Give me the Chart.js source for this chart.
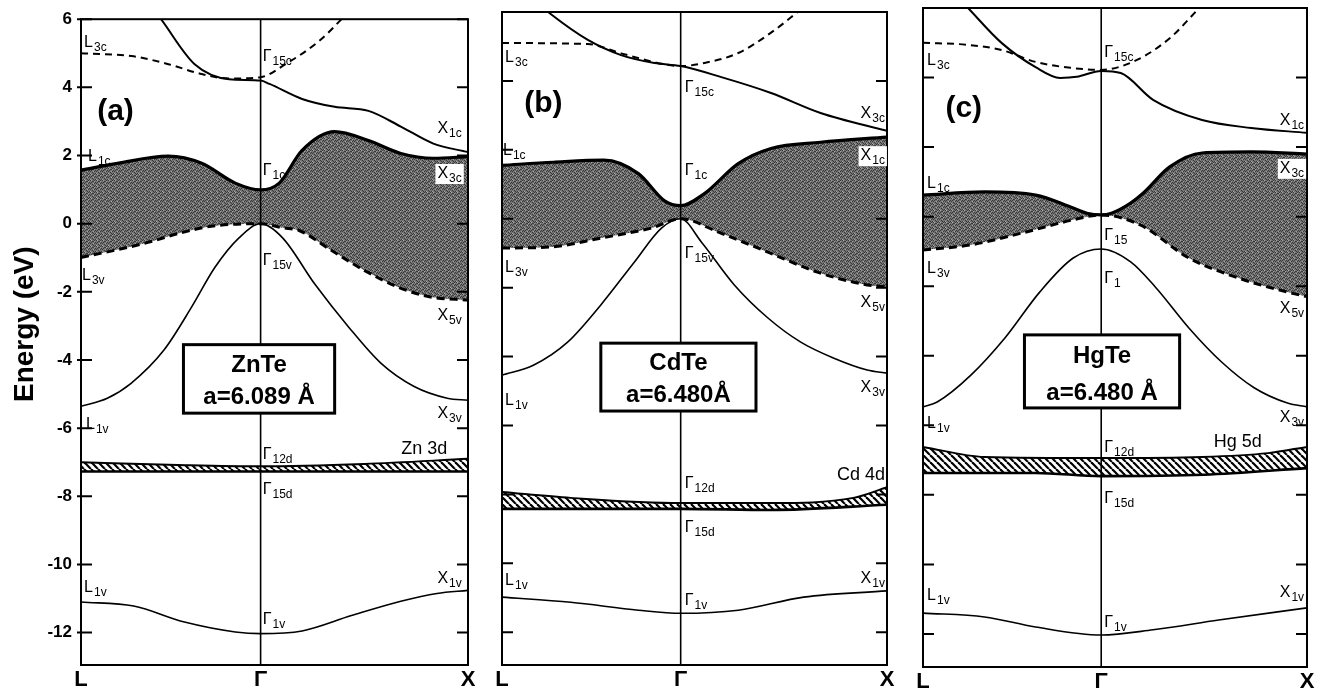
<!DOCTYPE html>
<html>
<head>
<meta charset="utf-8">
<title>Band structures ZnTe / CdTe / HgTe</title>
<script src="https://cdn.jsdelivr.net/npm/chart.js"></script>
<style>
  body { margin: 0; background: #fff; overflow: hidden; }
  canvas { position: absolute; }
</style>
</head>
<body>
<canvas id="znte" width="482" height="700" style="left:0;top:0"></canvas>
<canvas id="cdte" width="413" height="700" style="left:488px;top:0"></canvas>
<canvas id="hgte" width="412" height="700" style="left:909px;top:0"></canvas>
<script>
// k-points along L - Γ - X (L at sqrt(3)/2 of Γ-X distance)
const kNames = ['L', 'Γ', 'X'];
const kPos = [-0.866, 0, 1];
const yTicks = [-12, -10, -8, -6, -4, -2, 0, 2, 4, 6];

// ---- ZnTe band energies [k, eV] ----
const znteC15 = [[-0.53, 6.4], [-0.48, 6.0], [-0.318, 4.68], [-0.152, 4.24], [0, 4.2], [0.043, 4.1], [0.2, 3.66], [0.357, 3.43], [0.52, 3.31], [0.676, 2.85], [0.833, 2.35], [1, 2.1]];
const znteL3c = [[-0.866, 5.0], [-0.612, 4.91], [-0.445, 4.68], [-0.284, 4.39], [-0.152, 4.26], [0, 4.3], [0.12, 4.68], [0.28, 5.35], [0.39, 6.0], [0.45, 6.4]];
const znteC1 = [[-0.866, 1.57], [-0.69, 1.77], [-0.445, 1.98], [-0.284, 1.77], [-0.122, 1.19], [0, 0.99], [0.09, 1.19], [0.2, 2.15], [0.357, 2.7], [0.52, 2.44], [0.676, 2.06], [0.833, 1.92], [1, 1.97]];
const znteV3 = [[-0.866, -0.99], [-0.71, -0.79], [-0.543, -0.55], [-0.38, -0.26], [-0.22, -0.06], [0, 0], [0.105, -0.12], [0.186, -0.2], [0.343, -0.79], [0.5, -1.37], [0.662, -1.86], [0.819, -2.15], [1, -2.24]];
const znteV15 = [[-0.866, -5.36], [-0.739, -5.12], [-0.626, -4.69], [-0.465, -3.7], [-0.333, -2.45], [-0.22, -1.28], [-0.103, -0.41], [0, 0], [0.105, -0.41], [0.262, -1.78], [0.424, -3.03], [0.581, -4.1], [0.738, -4.77], [0.9, -5.12], [1, -5.18]];
const znteDTop = [[-0.866, -7.0], [-0.4, -7.08], [0, -7.12], [0.5, -7.05], [1, -6.9]];
const znteDBot = [[-0.866, -7.27], [0, -7.27], [1, -7.27]];
const znteV1 = [[-0.866, -11.1], [-0.612, -11.22], [-0.367, -11.69], [-0.122, -11.98], [0, -12.03], [0.2, -11.95], [0.438, -11.5], [0.676, -11.08], [0.85, -10.85], [1, -10.76]];

// ---- CdTe ----
const cdteC15 = [[-0.7, 6.3], [-0.63, 5.94], [-0.45, 5.19], [-0.289, 4.75], [-0.127, 4.52], [0, 4.43], [0.197, 4.11], [0.438, 3.65], [0.678, 3.07], [1, 2.55]];
const cdteL3c = [[-0.866, 5.1], [-0.45, 5.07], [-0.289, 4.8], [-0.093, 4.5], [0, 4.43], [0.115, 4.52], [0.279, 4.81], [0.438, 5.4], [0.567, 6.0], [0.65, 6.4]];
const cdteC1 = [[-0.866, 1.55], [-0.617, 1.64], [-0.372, 1.7], [-0.205, 1.31], [-0.078, 0.52], [0, 0.38], [0.115, 0.73], [0.279, 1.6], [0.438, 2.04], [0.678, 2.22], [1, 2.37]];
const cdteV3 = [[-0.866, -0.85], [-0.63, -0.82], [-0.387, -0.56], [-0.142, -0.27], [0, 0], [0.183, -0.39], [0.423, -0.97], [0.663, -1.55], [0.904, -1.92], [1, -1.98]];
const cdteV15 = [[-0.866, -4.54], [-0.714, -4.25], [-0.548, -3.58], [-0.387, -2.5], [-0.225, -1.26], [-0.093, -0.27], [0, 0], [0.101, -0.68], [0.26, -1.92], [0.423, -2.88], [0.582, -3.58], [0.74, -4.04], [0.904, -4.39], [1, -4.48]];
const cdteDTop = [[-0.866, -7.93], [-0.533, -8.1], [0, -8.25], [0.438, -8.25], [0.837, -8.1], [1, -7.79]];
const cdteDBot = [[-0.866, -8.42], [0, -8.42], [0.438, -8.45], [1, -8.3]];
const cdteV1 = [[-0.866, -10.98], [-0.533, -11.13], [-0.205, -11.36], [0, -11.45], [0.279, -11.36], [0.596, -10.98], [1, -10.8]];

// ---- HgTe ----
const hgteC15 = [[-0.7, 6.33], [-0.647, 6.0], [-0.483, 4.99], [-0.319, 4.3], [-0.2, 3.99], [-0.119, 4.02], [0, 4.19], [0.095, 4.13], [0.252, 3.36], [0.49, 2.78], [0.729, 2.55], [1, 2.41]];
const hgteL3c = [[-0.866, 5.0], [-0.647, 4.94], [-0.483, 4.79], [-0.319, 4.45], [-0.149, 4.28], [0, 4.22], [0.171, 4.5], [0.333, 5.13], [0.476, 6.0], [0.53, 6.33]];
const hgteC1 = [[-0.866, 0.62], [-0.567, 0.71], [-0.319, 0.62], [-0.149, 0.28], [-0.07, 0.1], [0, 0.05], [0.05, 0.1], [0.143, 0.39], [0.205, 0.68], [0.333, 1.43], [0.49, 1.83], [0.729, 1.86], [1, 1.8]];
const hgteV3 = [[-0.866, -0.96], [-0.632, -0.81], [-0.385, -0.47], [-0.136, -0.09], [0, 0.05], [0.19, -0.24], [0.426, -1.19], [0.664, -1.76], [0.905, -2.17], [1, -2.3]];
const hgteG1 = [[-0.866, -5.47], [-0.797, -5.33], [-0.632, -4.55], [-0.468, -3.49], [-0.299, -2.17], [-0.136, -1.19], [0, -0.93], [0.143, -1.3], [0.267, -2.05], [0.426, -3.2], [0.585, -4.18], [0.743, -4.92], [0.905, -5.36], [1, -5.47]];
const hgteDTop = [[-0.866, -6.62], [-0.567, -6.91], [0, -6.94], [0.49, -6.91], [0.81, -6.8], [1, -6.62]];
const hgteDBot = [[-0.866, -7.37], [-0.319, -7.37], [0, -7.46], [0.5, -7.42], [1, -7.23]];
const hgteV1 = [[-0.866, -11.4], [-0.567, -11.51], [-0.319, -11.8], [0, -12.03], [0.252, -11.88], [0.571, -11.6], [1, -11.25]];

// ---- text labels: [main, subscript, k, eV, align, whiteBackground] ----
const znteLabels = [
  ['L', '3c', -0.851, 5.18], ['Γ', '15c', 0.01, 4.77], ['X', '1c', 0.97, 2.65, 'right'],
  ['L', '1c', -0.832, 1.83], ['Γ', '1c', 0.01, 1.43], ['X', '3c', 0.97, 1.34, 'right', true],
  ['Γ', '15v', 0.01, -1.22], ['L', '3v', -0.861, -1.66], ['X', '5v', 0.97, -2.82, 'right'],
  ['X', '3v', 0.97, -5.71, 'right'], ['L', '1v', -0.842, -6.03], ['Γ', '12d', 0.01, -6.9],
  ['Γ', '15d', 0.01, -7.92], ['L', '1v', -0.851, -10.8], ['X', '1v', 0.97, -10.54, 'right'],
  ['Γ', '1v', 0.01, -11.76]
];
const cdteLabels = [
  ['L', '3c', -0.851, 4.55], ['Γ', '15c', 0.02, 3.68], ['X', '3c', 0.99, 2.92, 'right'],
  ['L', '1c', -0.861, 1.85], ['X', '1c', 0.99, 1.7, 'right', true], ['Γ', '1c', 0.02, 1.27],
  ['Γ', '15v', 0.02, -1.14], ['L', '3v', -0.851, -1.55], ['X', '5v', 0.99, -2.57, 'right'],
  ['X', '3v', 0.99, -5.03, 'right'], ['L', '1v', -0.851, -5.41], ['Γ', '12d', 0.02, -7.82],
  ['Γ', '15d', 0.02, -9.09], ['L', '1v', -0.851, -10.63], ['X', '1v', 0.99, -10.57, 'right'],
  ['Γ', '1v', 0.02, -11.21]
];
const hgteLabels = [
  ['L', '3c', -0.846, 4.36], ['Γ', '15c', 0.015, 4.59], ['X', '1c', 0.986, 2.64, 'right'],
  ['L', '1c', -0.846, 0.83], ['X', '3c', 0.986, 1.26, 'right', true], ['Γ', '15', 0.015, -0.67],
  ['L', '3v', -0.846, -1.62], ['Γ', '1', 0.015, -1.91], ['X', '5v', 0.986, -2.77, 'right'],
  ['X', '3v', 0.986, -5.9, 'right'], ['L', '1v', -0.846, -6.08], ['Γ', '12d', 0.015, -6.77],
  ['Γ', '15d', 0.015, -8.23], ['L', '1v', -0.846, -11.02], ['X', '1v', 0.986, -10.93, 'right'],
  ['Γ', '1v', 0.015, -11.8]
];

const FAM = '"Liberation Sans", Arial, Helvetica, sans-serif';
Chart.defaults.font.family = FAM;
Chart.defaults.color = '#000';

function stipple() {
  const c = document.createElement('canvas');
  c.width = 6; c.height = 6;
  const g = c.getContext('2d');
  g.fillStyle = '#747474';
  g.fillRect(0, 0, 6, 6);
  g.fillStyle = '#383838';
  [[0, 0], [3, 1], [1, 2], [4, 3], [2, 4], [5, 5], [0, 3], [3, 5], [5, 2], [2, 1], [4, 0]].forEach(p => g.fillRect(p[0], p[1], 1, 1));
  g.fillStyle = '#a4a4a4';
  [[1, 0], [4, 1], [0, 5], [3, 3]].forEach(p => g.fillRect(p[0], p[1], 1, 1));
  return g.createPattern(c, 'repeat');
}

function hatch() {
  const c = document.createElement('canvas');
  c.width = 7; c.height = 7;
  const g = c.getContext('2d');
  g.fillStyle = '#fff';
  g.fillRect(0, 0, 7, 7);
  g.strokeStyle = '#000';
  g.lineWidth = 2.2;
  [-7, 0, 7].forEach(k => { g.beginPath(); g.moveTo(k, 0); g.lineTo(k + 7, 7); g.stroke(); });
  return g.createPattern(c, 'repeat');
}

const pts = arr => arr.map(p => ({ x: p[0], y: p[1] }));

function drawLabel(ctx, l, xs, ys) {
  const px = xs.getPixelForValue(l[2]), py = ys.getPixelForValue(l[3]);
  ctx.font = '16px ' + FAM;
  const w1 = ctx.measureText(l[0]).width;
  ctx.font = '12px ' + FAM;
  const w2 = l[1] ? ctx.measureText(l[1]).width + 1 : 0;
  const x0 = l[4] === 'right' ? px - w1 - w2 : px;
  if (l[5]) {
    ctx.fillStyle = '#fff';
    ctx.fillRect(x0 - 2, py - 14, w1 + w2 + 4, 20);
  }
  ctx.fillStyle = '#000';
  ctx.textAlign = 'left';
  ctx.textBaseline = 'alphabetic';
  ctx.font = '16px ' + FAM;
  ctx.fillText(l[0], x0, py);
  ctx.font = '12px ' + FAM;
  if (l[1]) ctx.fillText(l[1], x0 + w1 + 1, py + 4);
}

function decor(cfg) {
  return {
    id: 'decor',
    afterDatasetsDraw(chart) {
      const ctx = chart.ctx, a = chart.chartArea;
      const xs = chart.scales.x, ys = chart.scales.y;
      ctx.save();
      ctx.strokeStyle = '#000';
      // Γ vertical line
      const gx = xs.getPixelForValue(0);
      ctx.lineWidth = 1.6;
      ctx.beginPath(); ctx.moveTo(gx, a.top); ctx.lineTo(gx, a.bottom); ctx.stroke();
      // inward ticks
      ctx.lineWidth = 2;
      yTicks.forEach(v => {
        const py = ys.getPixelForValue(v);
        ctx.beginPath();
        ctx.moveTo(a.left - cfg.out, py); ctx.lineTo(a.left + 11, py);
        ctx.moveTo(a.right - 11, py); ctx.lineTo(a.right, py);
        ctx.stroke();
      });
      // frame
      ctx.lineWidth = 2;
      ctx.strokeRect(a.left, a.top, a.right - a.left, a.bottom - a.top);
      // material box
      const b = cfg.box;
      const bx1 = xs.getPixelForValue(b.k0), bx2 = xs.getPixelForValue(b.k1);
      const by1 = ys.getPixelForValue(b.top), by2 = ys.getPixelForValue(b.bottom);
      ctx.fillStyle = '#fff';
      ctx.fillRect(bx1, by1, bx2 - bx1, by2 - by1);
      ctx.lineWidth = 3;
      ctx.strokeRect(bx1, by1, bx2 - bx1, by2 - by1);
      ctx.fillStyle = '#000';
      ctx.textAlign = 'center';
      ctx.textBaseline = 'alphabetic';
      ctx.font = 'bold 24px ' + FAM;
      ctx.fillText(b.name, (bx1 + bx2) / 2, ys.getPixelForValue(b.e1));
      ctx.fillText(b.lattice, (bx1 + bx2) / 2, ys.getPixelForValue(b.e2));
      // panel tag
      ctx.textAlign = 'left';
      ctx.font = 'bold 30px ' + FAM;
      ctx.fillText(cfg.tag[0], xs.getPixelForValue(cfg.tag[1]), ys.getPixelForValue(cfg.tag[2]));
      // d-band label
      ctx.font = '18px ' + FAM;
      ctx.textAlign = 'right';
      ctx.fillText(cfg.dName[0], xs.getPixelForValue(cfg.dName[1]), ys.getPixelForValue(cfg.dName[2]));
      // point labels
      cfg.labels.forEach(l => drawLabel(ctx, l, xs, ys));
      // y title
      if (cfg.yTitle) {
        ctx.save();
        ctx.translate(a.left - 48, ys.getPixelForValue(-2.95));
        ctx.rotate(-Math.PI / 2);
        ctx.textAlign = 'center';
        ctx.font = 'bold 28px ' + FAM;
        ctx.fillText(cfg.yTitle, 0, 0);
        ctx.restore();
      }
      ctx.restore();
    }
  };
}

function makePanel(id, bands, cfg, lay) {
  const thin = { borderWidth: 1.6 };
  const ds = [
    { data: pts(bands[0]), borderWidth: 2 },
    { data: pts(bands[1]), borderWidth: 2, borderDash: [7, 5] },
    { data: pts(bands[2]), borderWidth: 3.2, fill: 3, backgroundColor: stipple() },
    { data: pts(bands[3]), borderWidth: 3, borderDash: [8, 5] },
    Object.assign({ data: pts(bands[4]) }, thin),
    { data: pts(bands[5]), borderWidth: 2, fill: 6, backgroundColor: hatch() },
    { data: pts(bands[6]), borderWidth: 2.6 },
    Object.assign({ data: pts(bands[7]) }, thin)
  ].map(d => Object.assign({
    borderColor: '#000', pointRadius: 0, cubicInterpolationMode: 'monotone', fill: false
  }, d));

  new Chart(document.getElementById(id), {
    type: 'line',
    data: { datasets: ds },
    options: {
      responsive: false,
      animation: false,
      layout: { padding: { top: lay.top, left: lay.left, right: 14, bottom: 0 } },
      plugins: {
        legend: { display: false },
        tooltip: { enabled: false },
        filler: { drawTime: 'beforeDatasetsDraw' }
      },
      scales: {
        x: {
          type: 'linear', min: kPos[0], max: kPos[2],
          grid: { display: false, drawTicks: false },
          border: { display: false },
          afterBuildTicks: s => { s.ticks = kPos.map(v => ({ value: v })); },
          afterFit: s => { s.height = lay.xh; },
          ticks: {
            padding: 2,
            font: { size: 22, weight: 'bold' },
            callback: v => kNames[kPos.indexOf(v)]
          }
        },
        y: {
          display: lay.yAxis,
          min: -12.95, max: 6,
          grid: { display: false, drawTicks: false },
          border: { display: false },
          afterBuildTicks: s => { s.ticks = yTicks.map(v => ({ value: v })); },
          afterFit: s => { s.width = lay.yAxis ? 81 : 0; },
          ticks: { padding: 9, font: { size: 17, weight: 'bold' } }
        }
      }
    },
    plugins: [decor(cfg)]
  });
}

makePanel('znte',
  [znteC15, znteL3c, znteC1, znteV3, znteV15, znteDTop, znteDBot, znteV1],
  {
    labels: znteLabels, out: 4, yTitle: 'Energy (eV)',
    tag: ['(a)', -0.788, 3.03], dName: ['Zn 3d', 0.9, -6.75],
    box: { k0: -0.372, k1: 0.357, top: -3.55, bottom: -5.56, name: 'ZnTe', lattice: 'a=6.089 Å', e1: -4.34, e2: -5.3 }
  },
  { top: 14, left: 0, xh: 35, yAxis: true });

makePanel('cdte',
  [cdteC15, cdteL3c, cdteC1, cdteV3, cdteV15, cdteDTop, cdteDBot, cdteV1],
  {
    labels: cdteLabels, out: 0,
    tag: ['(b)', -0.758, 3.1], dName: ['Cd 4d', 0.99, -7.58],
    box: { k0: -0.387, k1: 0.365, top: -3.61, bottom: -5.58, name: 'CdTe', lattice: 'a=6.480Å', e1: -4.39, e2: -5.32 }
  },
  { top: 12, left: 14, xh: 35, yAxis: false });

makePanel('hgte',
  [hgteC15, hgteL3c, hgteC1, hgteV3, hgteG1, hgteDTop, hgteDBot, hgteV1],
  {
    labels: hgteLabels, out: 0,
    tag: ['(c)', -0.757, 2.87], dName: ['Hg 5d', 0.78, -6.62],
    box: { k0: -0.373, k1: 0.381, top: -3.4, bottom: -5.5, name: 'HgTe', lattice: 'a=6.480 Å', e1: -4.2, e2: -5.27 }
  },
  { top: 8, left: 14, xh: 33, yAxis: false });
</script>
</body>
</html>
